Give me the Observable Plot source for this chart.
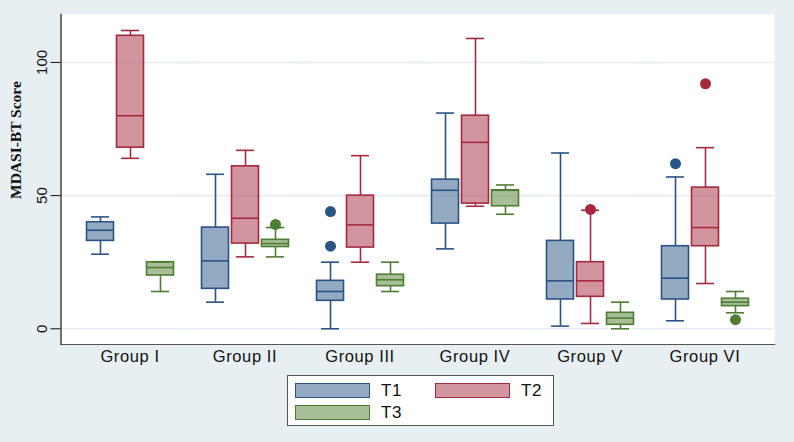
<!DOCTYPE html>
<html><head><meta charset="utf-8">
<script src="https://cdn.jsdelivr.net/npm/d3@7"></script>
<script src="https://cdn.jsdelivr.net/npm/@observablehq/plot@0.6"></script>
<style>
html,body{margin:0;padding:0;background:#e7eff2;}
#wrap{position:relative;width:794px;height:442px;overflow:hidden;font-family:"Liberation Sans",Arial,sans-serif;}
#legend{position:absolute;left:287px;top:375px;width:267px;height:51px;background:#fff;border:1px solid #555;box-sizing:border-box;}
.sw{position:absolute;width:75px;height:15px;box-sizing:border-box;border:1.5px solid;}
.lb{position:absolute;font-size:17px;color:#111;line-height:16px;letter-spacing:0.5px;}
#chart svg [aria-label="fx-axis tick label"] text{letter-spacing:0.6px;}
</style></head><body>
<div id="wrap"><div id="chart"></div><div id="legend"></div></div>
<script>
const groups = ["Group I","Group II","Group III","Group IV","Group V","Group VI"];
const series = ["T1","T2","T3"];
const yTicks = [0, 50, 100];
const yTitle = "MDASI-BT Score";

// five-number summaries per series, one value per group
const t1Low = [28, 10, 0, 30, 1, 3];
const t1Q1  = [33, 15, 10.5, 39.5, 11, 11];
const t1Med = [37, 25.5, 14, 52, 18, 19];
const t1Q3  = [40, 38, 18, 56, 33, 31];
const t1High= [42, 58, 25, 81, 66, 57];

const t2Low = [64, 27, 25, 46, 2, 17];
const t2Q1  = [68, 32, 30.5, 47, 12, 31];
const t2Med = [80, 41.5, 39, 70, 18, 38];
const t2Q3  = [110, 61, 50, 80, 25, 53];
const t2High= [112, 67, 65, 109, 44.5, 68];

const t3Low = [14, 27, 14, 43, 0, 6];
const t3Q1  = [20, 30.7, 16, 46, 1.5, 8.5];
const t3Med = [23, 32, 18.4, 52, 4, 10];
const t3Q3  = [25, 33.4, 20.3, 52, 6, 11.3];
const t3High= [25, 38, 25, 54, 10, 14];

// outliers
const outGroup  = ["Group III","Group III","Group VI","Group V","Group VI","Group II","Group VI"];
const outSeries = ["T1","T1","T1","T2","T2","T3","T3"];
const outValue  = [44, 31, 62, 44.8, 92, 39.2, 3.4];

const strokeColors = ["#2a5386", "#a52a3f", "#4f7d33"];

const stats = {
  T1: [t1Low, t1Q1, t1Med, t1Q3, t1High],
  T2: [t2Low, t2Q1, t2Med, t2Q3, t2High],
  T3: [t3Low, t3Q1, t3Med, t3Q3, t3High]
};
const rows = groups.flatMap((g, i) => series.map(s => {
  const [lo, q1, med, q3, hi] = stats[s].map(a => a[i]);
  return {group: g, series: s, lo, q1, med, q3, hi};
}));
const outliers = outValue.map((v, i) => ({group: outGroup[i], series: outSeries[i], value: v}));

// layout: plot region spans 59..776; facets tile 70.5..763.8
const padL = 11.5, padR = 12.2;
const sw = 1.6;
const chart = Plot.plot({
  width: 794, height: 372,
  marginLeft: 70.5, marginRight: 30.2, marginTop: 14, marginBottom: 28,
  style: {background: "transparent", fontFamily: "Liberation Sans, Arial, sans-serif", color: "#111"},
  fx: {domain: groups, paddingInner: 0, paddingOuter: 0, label: null},
  x: {domain: series, paddingInner: 0.115, paddingOuter: 0.452, axis: null},
  y: {domain: [-5.9, 118], label: null},
  color: {domain: series, range: strokeColors},
  marks: [
    Plot.frame({facet: "super", fill: "white", stroke: "none", insetLeft: -padL, insetRight: -padR}),
    Plot.ruleY(yTicks, {stroke: "#e8edf1", strokeWidth: 1.6, insetLeft: -padL, insetRight: -padR}),
    Plot.ruleX(rows, {fx: "group", x: "series", y1: "lo", y2: "q1", stroke: "series", strokeWidth: sw}),
    Plot.ruleX(rows, {fx: "group", x: "series", y1: "q3", y2: "hi", stroke: "series", strokeWidth: sw}),
    Plot.dot(outliers, {fx: "group", x: "series", y: "value", fill: "series", r: 5.5}),
    Plot.tickY(rows, {fx: "group", x: "series", y: "lo", stroke: "series", strokeWidth: sw, insetLeft: 4.5, insetRight: 4.5}),
    Plot.tickY(rows, {fx: "group", x: "series", y: "hi", stroke: "series", strokeWidth: sw, insetLeft: 4.5, insetRight: 4.5}),
    Plot.barY(rows, {fx: "group", x: "series", y1: "q1", y2: "q3", fill: "series", fillOpacity: 0.5, stroke: "series", strokeWidth: sw}),
    Plot.tickY(rows, {fx: "group", x: "series", y: "med", stroke: "series", strokeWidth: sw}),
    Plot.frame({facet: "super", anchor: "left", stroke: "#444", strokeWidth: 1.5, insetLeft: -padL}),
    Plot.frame({facet: "super", anchor: "bottom", stroke: "#555", strokeWidth: 1.2, insetLeft: -padL, insetRight: -padR}),
    Plot.axisY({ticks: yTicks, tickSize: 10, dx: -padL, tickRotate: -90, tickPadding: 4, fontSize: 15, label: null}),
    Plot.axisFx({anchor: "bottom", tickSize: 0, tickPadding: 6, fontSize: 16.5, label: null}),
    Plot.text([yTitle], {facet: "super", text: d => d, frameAnchor: "left", dx: 14 - 70.5, dy: 19.5, rotate: -90,
      fontWeight: "bold", fontFamily: "Liberation Serif, Times New Roman, serif", fontSize: 15.5, fill: "#111"})
  ]
});
document.getElementById("chart").append(chart);

// legend
const legend = document.getElementById("legend");
const pos = [[7, 7], [147, 7], [7, 29]];
series.forEach((s, i) => {
  const c = strokeColors[i];
  const swEl = document.createElement("div");
  swEl.className = "sw";
  swEl.style.left = pos[i][0] + "px";
  swEl.style.top = pos[i][1] + "px";
  swEl.style.borderColor = c;
  swEl.style.background = d3.color(c).copy({opacity: 0.5}).toString();
  legend.append(swEl);
  const lb = document.createElement("div");
  lb.className = "lb";
  lb.textContent = s;
  lb.style.left = (pos[i][0] + 86) + "px";
  lb.style.top = (pos[i][1]) + "px";
  legend.append(lb);
});
</script>
</body></html>
